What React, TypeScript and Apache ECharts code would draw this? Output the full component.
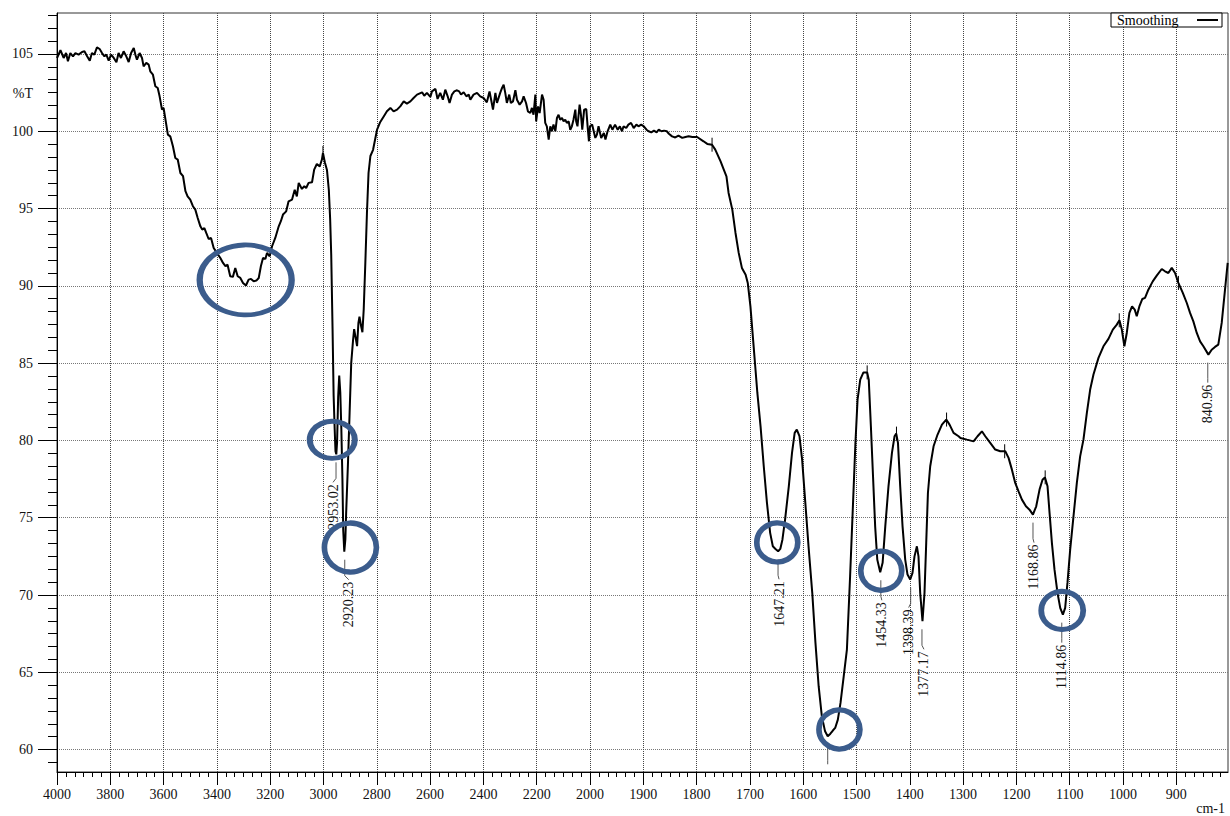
import React, { useEffect, useRef } from "react";
import * as echarts from "echarts";

// ---------- data ----------
const wavenumbers = [
  4000, 3987, 3975, 3966, 3959, 3950, 3940, 3931, 3919, 3906, 3897, 3887, 3877, 3869, 3860, 3850, 3840, 3831, 3822, 3815,
  3806, 3797, 3787, 3777, 3769, 3760, 3750, 3740, 3731, 3722, 3712, 3706, 3700, 3690, 3681, 3675, 3665, 3656, 3650, 3640,
  3631, 3622, 3615, 3606, 3600, 3591, 3584, 3575, 3565, 3556, 3547, 3537, 3527, 3518, 3510, 3500, 3490, 3481, 3472, 3462,
  3455, 3447, 3440, 3431, 3422, 3412, 3400, 3387, 3377, 3368, 3360, 3350, 3340, 3331, 3322, 3312, 3302, 3291, 3281, 3272,
  3262, 3252, 3243, 3235, 3227, 3218, 3212, 3202, 3193, 3181, 3168, 3160, 3152, 3140, 3131, 3118, 3108, 3100, 3093, 3081,
  3072, 3065, 3056, 3043, 3035, 3025, 3014, 3006, 3002,
  2995, 2987, 2980, 2975, 2971, 2966, 2962, 2958, 2955, 2952, 2949, 2945, 2941, 2937, 2933, 2929, 2926, 2922, 2918, 2915,
  2908, 2902, 2896, 2889, 2885, 2880, 2874, 2869, 2865, 2859, 2854, 2849, 2843, 2837, 2831, 2824, 2814, 2806, 2799, 2787,
  2774, 2762, 2749, 2737, 2724, 2712, 2699, 2687, 2674, 2662, 2649, 2630, 2622, 2612, 2599, 2593, 2580, 2572, 2562, 2552,
  2543, 2534, 2527, 2518, 2509, 2499, 2491, 2484, 2474, 2464, 2455, 2449, 2437, 2424, 2412, 2399, 2387, 2377, 2371, 2364,
  2355, 2349, 2337, 2330, 2324, 2318, 2312, 2303, 2297, 2289, 2280, 2274, 2264, 2255, 2249, 2240, 2233, 2224, 2218, 2212,
  2205, 2202, 2195, 2189, 2180, 2174, 2168, 2162, 2155, 2149, 2143, 2137, 2130, 2124, 2118, 2112, 2105, 2099, 2093, 2087,
  2080, 2074, 2068, 2062, 2055, 2052, 2047, 2039, 2034, 2029, 2022, 2014, 2009, 2004, 2000,
  1996, 1993, 1990, 1987, 1984, 1979, 1974, 1971, 1967, 1962, 1958, 1953, 1948, 1944, 1940, 1937, 1932, 1928, 1923, 1918,
  1913, 1909, 1904, 1899, 1894, 1890, 1885, 1880, 1875, 1871, 1866, 1861, 1856, 1852, 1846, 1840, 1834, 1827, 1821, 1815,
  1808, 1799, 1787, 1780, 1771, 1765, 1755, 1749, 1744, 1740, 1733, 1727, 1721, 1715, 1708, 1704, 1699, 1694, 1690, 1686,
  1680, 1674, 1668, 1662, 1657, 1652, 1647, 1643, 1639, 1634, 1627, 1621, 1616, 1612, 1607, 1602, 1596, 1590, 1583, 1577,
  1571, 1565, 1559, 1554, 1549, 1544, 1540, 1535, 1530, 1524, 1518, 1512, 1507, 1502, 1498, 1493, 1487, 1480, 1477, 1473,
  1469, 1465, 1461, 1455.5, 1451, 1446, 1440, 1433.5, 1428.6, 1425.4, 1422.2, 1418, 1413.6, 1408.6, 1404.3, 1399.2, 1394.9, 1391.2, 1386.7, 1383.7,
  1380.5, 1376.2, 1372.4, 1369.2, 1366, 1361.7, 1355.4, 1347.9, 1339.7, 1331.6, 1325.4, 1317.9, 1308.5, 1305, 1292.8, 1280.4, 1272.9, 1264.7, 1258.4, 1249.1,
  1239.7, 1230.3, 1220.9, 1214.7, 1208.4, 1202.2, 1196, 1189.6, 1182.1, 1175.4, 1169, 1162.8, 1156.6, 1151, 1146.5, 1141.6, 1137.8, 1133.4, 1128.5, 1122.9,
  1117.8, 1112.8, 1108.5, 1104.2, 1099.1, 1092.9, 1086.6, 1080.4, 1074.2, 1067.8, 1061.6, 1055.4, 1046, 1036.7, 1027.3, 1019.1, 1011.6, 1006.7, 1002.2, 997.4,
  992.9, 988, 983, 978, 974.2, 969.3, 963.7, 958.7, 952.4, 944.2, 936.7, 927.3, 921.2, 914.9, 908.5, 902.3, 896.1, 887.8, 880.3, 874.2,
  868, 861.6, 855.4, 849.2, 839.8, 833.6, 827.4, 821.2, 814.8, 808.6, 803.6,
];

const transmittance = [
  104.74, 105.24, 104.74, 105.06, 104.53, 105.06, 104.85, 105.06, 104.96, 105.13, 105.17, 104.85, 104.57, 105.06, 104.96, 105.43, 105.32, 105.06, 104.85, 104.96,
  104.57, 104.96, 104.74, 104.46, 105.06, 104.74, 105.17, 104.85, 104.48, 105.06, 105.39, 104.96, 104.63, 105.06, 104.74, 104.2, 104.42, 104.31, 103.88, 103.66,
  102.91, 102.8, 102.26, 101.4, 101.51, 100.54, 99.78, 99.67, 99.03, 98.27, 98.17, 97.3, 97.09, 96.12, 95.79, 95.58, 95.15, 94.93, 94.39, 93.85,
  93.64, 93.74, 93.42, 93.03, 93.1, 92.45, 92.13, 91.8, 91.48, 91.27, 91.37, 90.62, 90.58, 91.16, 90.62, 90.51, 90.19, 90.02, 90.4, 90.45,
  90.3, 90.34, 90.51, 91.27, 91.8, 91.74, 92.13, 91.91, 92.56, 93.1, 93.85, 94.18, 94.61, 94.82, 95.47, 95.58, 96.22, 95.79, 96.66, 96.27,
  96.44, 96.33, 96.66, 96.7, 97.52, 97.88, 97.73, 98.17, 98.6,
  98.0, 97.5, 96.2, 94.3, 92.0, 87.2, 82.9, 80.7, 79.3, 79.1, 79.9, 82.8, 84.2, 83.1, 80.7, 77.5, 74.2, 72.8, 73.6, 75.3,
  78.6, 81.8, 85.0, 86.5, 87.2, 86.7, 86.1, 87.6, 88.0, 87.4, 87.0, 88.5, 91.5, 94.7, 97.3, 98.4, 98.8, 99.5, 100.1, 100.6,
  100.96, 101.29, 101.51, 101.29, 101.4, 101.61, 101.93, 101.79, 101.93, 102.15, 102.37, 102.52, 102.3, 102.48, 102.22, 102.58, 102.74, 102.09, 102.48, 102.04,
  102.69, 102.26, 101.83, 102.37, 102.58, 102.65, 102.58, 102.37, 102.52, 102.26, 102.37, 102.04, 102.37, 102.48, 102.26, 102.15, 101.87, 102.58, 102.04, 101.4,
  102.48, 101.83, 102.48, 102.8, 103.01, 102.48, 101.83, 102.37, 101.83, 101.93, 102.65, 102.04, 101.72, 101.93, 102.26, 101.83, 101.29, 101.18, 101.51, 101.07,
  102.37, 100.64, 101.61, 101.18, 102.37, 102.04, 100.54, 100.32, 99.46, 100.32, 100.0, 100.43, 100.0, 100.86, 101.07, 100.75, 100.86, 100.64, 100.75, 100.54,
  100.64, 100.1, 100.32, 100.75, 101.4, 100.64, 100.32, 101.72, 101.07, 100.1, 101.4, 101.44, 100.32, 99.35, 100.32,
  100.43, 100.0, 99.57, 99.78, 100.32, 99.57, 99.89, 99.46, 100.0, 100.43, 100.1, 100.43, 100.1, 100.32, 100.0, 100.32, 100.21, 100.43, 100.54, 100.21,
  100.43, 100.32, 100.43, 100.32, 100.1, 100.0, 99.93, 100.04, 99.93, 100.1, 100.0, 100.04, 100.0, 99.84, 99.67, 99.6, 99.71, 99.57, 99.63, 99.67,
  99.63, 99.63, 99.35, 99.18, 99.13, 98.81, 98.05, 97.52, 97.08, 96.01, 94.93, 93.42, 92.13, 91.16, 90.72, 90.19, 88.67, 86.52, 84.8, 83.07,
  80.91, 78.33, 75.96, 74.02, 73.15, 72.98, 72.83, 72.98, 73.58, 74.88, 77.03, 79.19, 80.49, 80.7, 80.27, 78.76, 75.96, 73.15, 70.14, 66.9,
  64.1, 62.15, 61.18, 60.86, 61.03, 61.25, 61.4, 61.94, 63.02, 64.74, 66.47, 71.21, 75.52, 79.84, 82.64, 83.93, 84.4, 84.4, 83.93, 80.91,
  77.68, 74.44, 72.29, 71.47, 72.08, 74.44, 77.03, 79.19, 80.27, 80.44, 79.84, 77.03, 74.44, 72.29, 71.32, 71.0, 71.43, 72.5, 73.15, 72.5,
  70.14, 68.3, 70.14, 73.37, 76.6, 78.33, 79.62, 80.38, 81.02, 81.35, 81.02, 80.49, 80.27, 80.16, 80.05, 79.94, 80.27, 80.59, 80.27, 79.84,
  79.41, 79.3, 79.3, 78.87, 78.11, 77.25, 76.71, 76.17, 75.74, 75.52, 75.2, 75.74, 76.82, 77.46, 77.61, 77.03, 75.31, 73.37, 71.64, 70.14,
  69.17, 68.73, 69.17, 70.78, 72.94, 75.09, 77.25, 78.97, 80.05, 81.78, 83.29, 84.26, 85.34, 86.09, 86.57, 87.17, 87.49, 87.77, 87.17, 86.09,
  86.95, 88.25, 88.67, 88.46, 88.03, 88.67, 89.15, 89.22, 89.75, 90.29, 90.66, 91.09, 90.94, 90.83, 91.16, 90.83, 90.19, 89.54, 88.89, 88.25,
  87.7, 86.95, 86.41, 86.09, 85.55, 85.87, 86.05, 86.2, 87.6, 89.75, 91.48,
];

// axis ticks
const xTickLabels = [4000, 3800, 3600, 3400, 3200, 3000, 2800, 2600, 2400, 2200, 2000,
  1900, 1800, 1700, 1600, 1500, 1400, 1300, 1200, 1100, 1000, 900];
const yTickValues = [60, 65, 70, 75, 80, 85, 90, 95, 100, 105];
const X_START = 4000;
const X_END = 803;
const Y_MIN = 58.55;
const Y_MAX = 107.65;

// peak annotations
const peakLabels = ["2953.02", "2920.23", "1647.21", "", "1454.33", "1398.39", "1377.17", "1168.86", "1114.86", "840.96"];
const peakWn = [2953.02, 2920.23, 1647.21, 1554, 1454.33, 1398.39, 1377.17, 1168.86, 1114.86, 840.96];
const peakT = [79.1, 72.8, 72.83, 60.86, 71.47, 71.0, 68.3, 75.2, 68.73, 85.55];
const peakShift = [-3, 4, 1, 0, 1, -2, 2, 1, 0, 0]; // label x-offset in px (layout)

// small vertical marker ticks on the curve
const markWn = [3002, 1771, 1480, 1425, 1331, 1222, 1146, 1007, 896];
const markT = [98.6, 99.13, 84.4, 80.44, 81.35, 79.3, 77.61, 87.77, 90.19];

// blue highlight ellipses
const circleWn = [3292, 2967, 2899, 1648.6, 1532, 1453.5, 1114];
const circleT = [90.38, 80.04, 73.07, 73.4, 61.3, 71.57, 69.0];
const circleSize = [[92, 70], [45, 37], [52, 49], [41, 39], [41, 39], [41, 39], [42, 38]];

// ---------- helpers: piecewise wavenumber scale (4000-2000 compressed x2) ----------
const toPos = (w: number) => (w >= 2000 ? (4000 - w) / 2 : 3000 - w);
const posToWn = (p: number) => Math.round(p <= 1000 ? 4000 - 2 * p : 3000 - p);

const FONT = '"Liberation Serif", "Times New Roman", serif';
const BLUE = "#3b5c8c";

export default function App() {
  const ref = useRef<HTMLDivElement>(null);

  useEffect(() => {
    if (!ref.current) return;
    const chart = echarts.init(ref.current, undefined, { renderer: "svg" });

    const lineData = wavenumbers.map((w, i) => [toPos(w), transmittance[i]]);
    const peakData = peakWn.map((w, i) => [toPos(w), peakT[i]]);
    const markData = markWn.map((w, i) => [toPos(w), markT[i]]);
    const circleData = circleWn.map((w, i) => [toPos(w), circleT[i]]);

    chart.setOption({
      animation: false,
      textStyle: { fontFamily: FONT },
      grid: {
        left: 57, right: 2, top: 13, bottom: 44,
        show: true, borderColor: "#333", borderWidth: 1, backgroundColor: "transparent",
      },
      legend: {
        data: [{ name: "Smoothing", icon: "rect" }],
        right: 8, top: 13, align: "right",
        backgroundColor: "#fff", borderColor: "#000", borderWidth: 1,
        padding: [0, 4, 0, 6],
        itemWidth: 21, itemHeight: 2,
        itemStyle: { color: "#000", borderWidth: 0, borderColor: "transparent" },
        formatter: "{a|{name}}",
        textStyle: {
          fontSize: 14, fontFamily: FONT, color: "#000",
          rich: { a: { width: 75, height: 14, lineHeight: 14, fontSize: 14, fontFamily: FONT, color: "#000", align: "left" } },
        },
      },
      xAxis: {
        type: "value",
        min: toPos(X_START), max: toPos(X_END),
        splitNumber: 22, minInterval: 100, maxInterval: 100,
        axisLine: { onZero: false, lineStyle: { color: "#000", width: 1 } },
        axisTick: { length: 13, lineStyle: { color: "#000" }, customValues: xTickLabels.map(toPos) },
        minorTick: { show: true, splitNumber: 6, length: 5, lineStyle: { color: "#000" } },
        axisLabel: {
          customValues: xTickLabels.map(toPos),
          formatter: (v: number) => String(posToWn(v)),
          margin: 15, fontSize: 14, color: "#111", fontFamily: FONT,
        },
        splitLine: { show: true, lineStyle: { type: "dotted", color: "#444", width: 1 } },
      },
      yAxis: {
        type: "value",
        min: Y_MIN, max: Y_MAX,
        splitNumber: 10, minInterval: 5, maxInterval: 5,
        axisLine: { show: true, onZero: false, lineStyle: { color: "#000", width: 1 } },
        axisTick: { show: true, length: 19, lineStyle: { color: "#000" }, customValues: yTickValues },
        minorTick: { show: true, splitNumber: 6, length: 9, lineStyle: { color: "#000" } },
        axisLabel: {
          customValues: yTickValues,
          margin: 24, fontSize: 14, color: "#111", fontFamily: FONT,
        },
        splitLine: { show: true, lineStyle: { type: "dotted", color: "#777", width: 1 } },
      },
      graphic: [
        {
          type: "text", x: 33, y: 93,
          style: { text: "%T", align: "right", verticalAlign: "middle", fontSize: 14, fontFamily: FONT, fill: "#111" },
        },
        {
          type: "text", x: 1225, y: 808,
          style: { text: "cm-1", align: "right", verticalAlign: "middle", fontSize: 14, fontFamily: FONT, fill: "#111" },
        },
      ],
      series: [
        {
          name: "Smoothing",
          type: "line",
          data: lineData,
          showSymbol: false,
          symbol: "none",
          lineStyle: { color: "#000", width: 2 },
          itemStyle: { color: "#000" },
          z: 3,
        },
        {
          name: "markers",
          type: "custom",
          data: markData,
          silent: true,
          z: 4,
          renderItem: (params: any, api: any) => {
            const p = api.coord([api.value(0), api.value(1)]);
            return {
              type: "line",
              shape: { x1: p[0], y1: p[1] - 7, x2: p[0], y2: p[1] + 7 },
              style: { stroke: "#000", lineWidth: 1 },
            };
          },
        },
        {
          name: "peaks",
          type: "custom",
          data: peakData,
          silent: true,
          z: 5,
          renderItem: (params: any, api: any) => {
            const i = params.dataIndex;
            const p = api.coord([api.value(0), api.value(1)]);
            const dx = peakShift[i];
            const top = p[1] + 30;
            const children: any[] = [
              {
                type: "polyline",
                shape: { points: [[p[0], p[1] + 8], [p[0], top - 6], [p[0] + dx, top - 2]] },
                style: { stroke: "#555", lineWidth: 1, fill: null },
              },
            ];
            if (peakLabels[i]) {
              children.push({
                type: "text",
                x: p[0] + dx,
                y: top,
                rotation: Math.PI / 2,
                style: {
                  text: peakLabels[i], align: "right", verticalAlign: "middle",
                  fontSize: 14, fontFamily: FONT, fill: "#111",
                },
              });
            }
            return { type: "group", children };
          },
        },
        {
          name: "highlights",
          type: "scatter",
          data: circleData,
          symbol: "circle",
          symbolSize: (_v: any, params: any) => circleSize[params.dataIndex],
          silent: true,
          z: 6,
          itemStyle: { color: "rgba(0,0,0,0)", borderColor: BLUE, borderWidth: 5.5, opacity: 1 },
        },
      ],
    });

    return () => chart.dispose();
  }, []);

  return (
    <div
      ref={ref}
      style={{ position: "absolute", left: 0, top: 0, width: 1230, height: 816, background: "#fff" }}
    />
  );
}
